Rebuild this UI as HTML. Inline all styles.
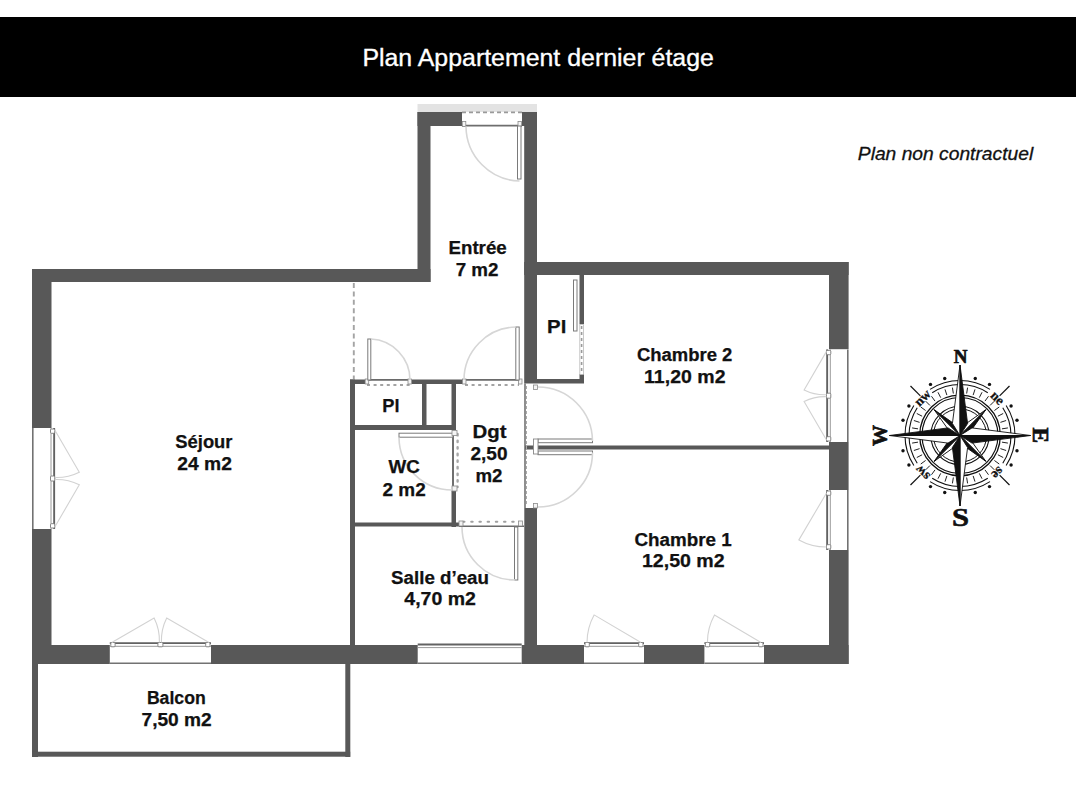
<!DOCTYPE html>
<html><head><meta charset="utf-8"><style>
html,body{margin:0;padding:0;background:#fff;width:1076px;height:800px;overflow:hidden}
svg{display:block}
</style></head><body>
<svg width="1076" height="800" viewBox="0 0 1076 800">
<rect x="0" y="17" width="1076" height="80" fill="#000" />
<text x="362.4" y="66.2" font-family="Liberation Sans" font-size="24.7" font-weight="normal" fill="#fff" text-anchor="start" textLength="351.5" lengthAdjust="spacingAndGlyphs" stroke="#fff" stroke-width="0.35">Plan Appartement dernier étage</text>
<text x="857.8" y="160.4" font-family="Liberation Sans" font-size="18" font-weight="normal" fill="#111" text-anchor="start" textLength="175.4" lengthAdjust="spacingAndGlyphs" font-style="italic" stroke="#111" stroke-width="0.3">Plan non contractuel</text>
<rect x="417.5" y="104" width="119.5" height="8" fill="#e3e3e3" />
<rect x="417.5" y="112" width="13" height="170" fill="#585858" />
<rect x="417.5" y="112" width="44.5" height="14" fill="#585858" />
<rect x="522" y="112" width="15" height="14" fill="#585858" />
<rect x="524.2" y="112" width="12.8" height="271.5" fill="#585858" />
<rect x="32" y="269" width="398.5" height="13" fill="#585858" />
<rect x="32" y="269" width="19.5" height="159" fill="#585858" />
<rect x="32" y="529" width="19.5" height="135" fill="#585858" />
<rect x="32" y="645" width="77.8" height="19" fill="#585858" />
<rect x="211" y="645" width="206.7" height="19" fill="#585858" />
<rect x="521.7" y="645" width="62.299999999999955" height="19" fill="#585858" />
<rect x="644" y="645" width="60.39999999999998" height="19" fill="#585858" />
<rect x="764" y="645" width="84.60000000000002" height="19" fill="#585858" />
<rect x="524.2" y="262" width="324.4" height="13" fill="#585858" />
<rect x="829" y="262" width="19.6" height="87.19999999999999" fill="#585858" />
<rect x="829" y="442" width="19.6" height="48" fill="#585858" />
<rect x="829" y="550" width="19.6" height="114" fill="#585858" />
<rect x="525" y="445.5" width="304" height="4" fill="#585858" />
<rect x="524.3" y="508" width="12.7" height="156" fill="#585858" />
<rect x="579.5" y="275" width="4.5" height="49" fill="#585858" />
<rect x="537" y="379" width="47" height="4.5" fill="#585858" />
<rect x="579.5" y="374" width="4.5" height="9" fill="#585858" />
<rect x="350" y="379.5" width="15" height="4.5" fill="#585858" />
<rect x="411.6" y="379.5" width="51.1" height="4.5" fill="#585858" />
<rect x="350" y="379.5" width="5" height="284.5" fill="#585858" />
<rect x="422" y="384" width="4.5" height="46" fill="#585858" />
<rect x="451.5" y="384" width="4.5" height="46" fill="#585858" />
<rect x="451.5" y="490" width="4.5" height="37" fill="#585858" />
<rect x="350" y="425" width="106" height="5" fill="#585858" />
<rect x="350" y="522.5" width="109" height="4" fill="#585858" />
<rect x="32" y="664" width="6" height="93" fill="#585858" />
<rect x="32" y="751.7" width="318.2" height="5" fill="#585858" />
<rect x="345.3" y="664" width="5" height="93" fill="#585858" />
<g transform="translate(109.8,645)">
<line x1="0" y1="-1.85" x2="101.2" y2="-1.85" stroke="#626262" stroke-width="1.9"/>
<line x1="0" y1="1.3" x2="101.2" y2="1.3" stroke="#9a9a9a" stroke-width="1"/>
<line x1="0" y1="18.2" x2="101.2" y2="18.2" stroke="#727272" stroke-width="1.6"/>
<rect x="1" y="-2.5" width="4.3" height="4.3" rx="1" fill="#fff" stroke="#7a7a7a" stroke-width="0.9"/>
<rect x="95.9" y="-2.5" width="4.3" height="4.3" rx="1" fill="#fff" stroke="#7a7a7a" stroke-width="0.9"/>
<rect x="48.1" y="-2.5" width="5" height="4.3" rx="1" fill="#fff" stroke="#7a7a7a" stroke-width="0.9"/>
<path d="M2 -2.5 L44.3 -27.0 A50.6 50.6 0 0 1 49.6 -2.5" stroke="#d2d2d2" stroke-width="1.1" fill="none"/>
<path d="M99.2 -2.5 L56.9 -27.0 A50.6 50.6 0 0 0 51.6 -2.5" stroke="#d2d2d2" stroke-width="1.1" fill="none"/>
</g>
<g transform="translate(417.7,645)">
<line x1="0" y1="-0.55" x2="104" y2="-0.55" stroke="#626262" stroke-width="1.9"/>
<line x1="0" y1="2.6" x2="104" y2="2.6" stroke="#9a9a9a" stroke-width="1"/>
<line x1="0" y1="18.2" x2="104" y2="18.2" stroke="#727272" stroke-width="1.6"/>
</g>
<g transform="translate(584,645)">
<line x1="0" y1="-1.85" x2="60" y2="-1.85" stroke="#626262" stroke-width="1.9"/>
<line x1="0" y1="1.3" x2="60" y2="1.3" stroke="#9a9a9a" stroke-width="1"/>
<line x1="0" y1="18.2" x2="60" y2="18.2" stroke="#727272" stroke-width="1.6"/>
<rect x="1" y="-2.5" width="4.3" height="4.3" rx="1" fill="#fff" stroke="#7a7a7a" stroke-width="0.9"/>
<rect x="54.7" y="-2.5" width="4.3" height="4.3" rx="1" fill="#fff" stroke="#7a7a7a" stroke-width="0.9"/>
<path d="M57 -2.5 L10.1 -30.1 A57 57 0 0 0 3 -2.5" stroke="#d2d2d2" stroke-width="1.1" fill="none"/>
</g>
<g transform="translate(704.4,645)">
<line x1="0" y1="-1.85" x2="59.6" y2="-1.85" stroke="#626262" stroke-width="1.9"/>
<line x1="0" y1="1.3" x2="59.6" y2="1.3" stroke="#9a9a9a" stroke-width="1"/>
<line x1="0" y1="18.2" x2="59.6" y2="18.2" stroke="#727272" stroke-width="1.6"/>
<rect x="1" y="-2.5" width="4.3" height="4.3" rx="1" fill="#fff" stroke="#7a7a7a" stroke-width="0.9"/>
<rect x="54.300000000000004" y="-2.5" width="4.3" height="4.3" rx="1" fill="#fff" stroke="#7a7a7a" stroke-width="0.9"/>
<path d="M56.6 -2.5 L10.1 -29.9 A56.6 56.6 0 0 0 3.0 -2.5" stroke="#d2d2d2" stroke-width="1.1" fill="none"/>
</g>
<g transform="translate(51.5,428) rotate(90)">
<line x1="0" y1="-2.6500000000000004" x2="101" y2="-2.6500000000000004" stroke="#626262" stroke-width="1.9"/>
<line x1="0" y1="0.5" x2="101" y2="0.5" stroke="#9a9a9a" stroke-width="1"/>
<line x1="0" y1="18.7" x2="101" y2="18.7" stroke="#727272" stroke-width="1.6"/>
<rect x="1" y="-3.3" width="4.3" height="4.3" rx="1" fill="#fff" stroke="#7a7a7a" stroke-width="0.9"/>
<rect x="95.7" y="-3.3" width="4.3" height="4.3" rx="1" fill="#fff" stroke="#7a7a7a" stroke-width="0.9"/>
<rect x="48.0" y="-3.3" width="5" height="4.3" rx="1" fill="#fff" stroke="#7a7a7a" stroke-width="0.9"/>
<path d="M2 -3.3 L44.2 -27.8 A50.5 50.5 0 0 1 49.5 -3.3" stroke="#d2d2d2" stroke-width="1.1" fill="none"/>
<path d="M99 -3.3 L56.8 -27.8 A50.5 50.5 0 0 0 51.5 -3.3" stroke="#d2d2d2" stroke-width="1.1" fill="none"/>
</g>
<g transform="translate(829,442) rotate(-90)">
<line x1="0" y1="-1.85" x2="92.6" y2="-1.85" stroke="#626262" stroke-width="1.9"/>
<line x1="0" y1="1.3" x2="92.6" y2="1.3" stroke="#9a9a9a" stroke-width="1"/>
<line x1="0" y1="18.8" x2="92.6" y2="18.8" stroke="#727272" stroke-width="1.6"/>
<rect x="1" y="-2.5" width="4.3" height="4.3" rx="1" fill="#fff" stroke="#7a7a7a" stroke-width="0.9"/>
<rect x="87.3" y="-2.5" width="4.3" height="4.3" rx="1" fill="#fff" stroke="#7a7a7a" stroke-width="0.9"/>
<rect x="43.8" y="-2.5" width="5" height="4.3" rx="1" fill="#fff" stroke="#7a7a7a" stroke-width="0.9"/>
<path d="M2 -2.5 L40.5 -24.9 A46.3 46.3 0 0 1 45.3 -2.5" stroke="#d2d2d2" stroke-width="1.1" fill="none"/>
<path d="M90.6 -2.5 L52.1 -24.9 A46.3 46.3 0 0 0 47.3 -2.5" stroke="#d2d2d2" stroke-width="1.1" fill="none"/>
</g>
<g transform="translate(829,550) rotate(-90)">
<line x1="0" y1="-1.85" x2="60" y2="-1.85" stroke="#626262" stroke-width="1.9"/>
<line x1="0" y1="1.3" x2="60" y2="1.3" stroke="#9a9a9a" stroke-width="1"/>
<line x1="0" y1="18.8" x2="60" y2="18.8" stroke="#727272" stroke-width="1.6"/>
<rect x="1" y="-2.5" width="4.3" height="4.3" rx="1" fill="#fff" stroke="#7a7a7a" stroke-width="0.9"/>
<rect x="54.7" y="-2.5" width="4.3" height="4.3" rx="1" fill="#fff" stroke="#7a7a7a" stroke-width="0.9"/>
<path d="M57 -2.5 L10.1 -30.1 A57 57 0 0 0 3 -2.5" stroke="#d2d2d2" stroke-width="1.1" fill="none"/>
</g>
<line x1="462" y1="112.3" x2="522" y2="112.3" stroke="#9a9a9a" stroke-width="1.8" stroke-dasharray="4 3"/>
<line x1="462" y1="125.6" x2="522" y2="125.6" stroke="#6e6e6e" stroke-width="1.8" />
<rect x="462.3" y="121.5" width="3.5" height="5" fill="#f4f4f4" stroke="#8a8a8a" stroke-width="0.8"/>
<rect x="518" y="121.5" width="3.5" height="5" fill="#f4f4f4" stroke="#8a8a8a" stroke-width="0.8"/>
<rect x="517.5" y="126" width="3.5" height="53" fill="#fff" stroke="#7a7a7a" stroke-width="1"/>
<path d="M466 126.5 A55 55 0 0 0 519.5 181" stroke="#d6d6d6" stroke-width="1.6" fill="none"/>
<line x1="365" y1="379.9" x2="411.6" y2="379.9" stroke="#6a6a6a" stroke-width="1.9" />
<line x1="367" y1="385" x2="410" y2="385" stroke="#a3a3a3" stroke-width="2" stroke-dasharray="3 3.6"/>
<rect x="365.2" y="379" width="3.5" height="5" fill="#f4f4f4" stroke="#8a8a8a" stroke-width="0.8"/>
<rect x="408" y="379" width="3.5" height="5" fill="#f4f4f4" stroke="#8a8a8a" stroke-width="0.8"/>
<rect x="367.8" y="339" width="3" height="41" fill="#fff" stroke="#7a7a7a" stroke-width="1"/>
<path d="M371 339 A41 41 0 0 1 410 380" stroke="#d6d6d6" stroke-width="1.6" fill="none"/>
<line x1="462.7" y1="379.9" x2="522" y2="379.9" stroke="#6a6a6a" stroke-width="1.9" />
<line x1="465" y1="385" x2="519" y2="385" stroke="#a3a3a3" stroke-width="2" stroke-dasharray="3 3.6"/>
<rect x="462.5" y="379" width="3.5" height="5" fill="#f4f4f4" stroke="#8a8a8a" stroke-width="0.8"/>
<rect x="518.5" y="379" width="3.5" height="5" fill="#f4f4f4" stroke="#8a8a8a" stroke-width="0.8"/>
<rect x="515.8" y="327" width="3.4" height="53" fill="#fff" stroke="#7a7a7a" stroke-width="1"/>
<path d="M515.8 327 A53 53 0 0 0 464 380" stroke="#d6d6d6" stroke-width="1.6" fill="none"/>
<line x1="525" y1="383.5" x2="525" y2="508" stroke="#6a6a6a" stroke-width="1.5" />
<line x1="526.5" y1="386" x2="526.5" y2="506" stroke="#aaa" stroke-width="1.0" stroke-dasharray="3 2"/>
<rect x="538" y="439" width="54.5" height="3.7" fill="#fff" stroke="#7a7a7a" stroke-width="1"/>
<rect x="538" y="451" width="54.5" height="3.7" fill="#fff" stroke="#7a7a7a" stroke-width="1"/>
<rect x="533.5" y="385" width="4" height="4.5" fill="#f4f4f4" stroke="#8a8a8a" stroke-width="0.8"/>
<rect x="533.5" y="503.5" width="4" height="4.5" fill="#f4f4f4" stroke="#8a8a8a" stroke-width="0.8"/>
<rect x="533.5" y="439" width="4.5" height="15" fill="#fff" stroke="#888" stroke-width="0.9"/>
<path d="M538 387 A54.5 54.5 0 0 1 592.5 441" stroke="#d6d6d6" stroke-width="1.6" fill="none"/>
<path d="M592.5 452.5 A54.5 54.5 0 0 1 538 507" stroke="#d6d6d6" stroke-width="1.6" fill="none"/>
<line x1="453" y1="431" x2="453" y2="489" stroke="#707070" stroke-width="2" />
<line x1="457.6" y1="434" x2="457.6" y2="487" stroke="#a8a8a8" stroke-width="2.4" stroke-linecap="round" stroke-dasharray="1.4 5.2"/>
<rect x="399" y="433.2" width="54" height="4" fill="#fff" stroke="#7a7a7a" stroke-width="1"/>
<rect x="452" y="430.5" width="5" height="5" fill="#f4f4f4" stroke="#8a8a8a" stroke-width="0.8"/>
<rect x="452" y="486" width="5" height="5" fill="#f4f4f4" stroke="#8a8a8a" stroke-width="0.8"/>
<path d="M399 437.5 A53 53 0 0 0 452 490" stroke="#d6d6d6" stroke-width="1.6" fill="none"/>
<line x1="463" y1="521.8" x2="518" y2="521.8" stroke="#a0a0a0" stroke-width="2" stroke-linecap="round" stroke-dasharray="1.5 6.7"/>
<line x1="459" y1="526.2" x2="524" y2="526.2" stroke="#6a6a6a" stroke-width="1.6" />
<rect x="459" y="521" width="4" height="5" fill="#f4f4f4" stroke="#8a8a8a" stroke-width="0.8"/>
<rect x="518.5" y="521" width="4" height="5" fill="#f4f4f4" stroke="#8a8a8a" stroke-width="0.8"/>
<rect x="514.5" y="527" width="3.3" height="53" fill="#fff" stroke="#7a7a7a" stroke-width="1"/>
<path d="M462 527 A53 53 0 0 0 515 580" stroke="#d6d6d6" stroke-width="1.6" fill="none"/>
<rect x="573.5" y="280" width="3.5" height="51" fill="#fff" stroke="#7a7a7a" stroke-width="1"/>
<rect x="579.8" y="324.5" width="3.6" height="50" fill="#fff" stroke="#bbb" stroke-width="0.8"/>
<line x1="581.6" y1="326" x2="581.6" y2="373" stroke="#9a9a9a" stroke-width="1.6" stroke-dasharray="3 3"/>
<g transform="translate(960,435.5)">
<circle cx="15.27" cy="-56.99" r="1.7" fill="#111"/>
<circle cx="56.99" cy="15.27" r="1.7" fill="#111"/>
<circle cx="-15.27" cy="56.99" r="1.7" fill="#111"/>
<circle cx="-56.99" cy="-15.27" r="1.7" fill="#111"/>
<circle cx="29.50" cy="-51.10" r="1.7" fill="#111"/>
<circle cx="51.10" cy="29.50" r="1.7" fill="#111"/>
<circle cx="-29.50" cy="51.10" r="1.7" fill="#111"/>
<circle cx="-51.10" cy="-29.50" r="1.7" fill="#111"/>
<circle cx="51.10" cy="-29.50" r="1.7" fill="#111"/>
<circle cx="29.50" cy="51.10" r="1.7" fill="#111"/>
<circle cx="-51.10" cy="29.50" r="1.7" fill="#111"/>
<circle cx="-29.50" cy="-51.10" r="1.7" fill="#111"/>
<circle cx="56.99" cy="-15.27" r="1.7" fill="#111"/>
<circle cx="15.27" cy="56.99" r="1.7" fill="#111"/>
<circle cx="-56.99" cy="15.27" r="1.7" fill="#111"/>
<circle cx="-15.27" cy="-56.99" r="1.7" fill="#111"/>
<line x1="39.60" y1="-39.60" x2="49.50" y2="-49.50" stroke="#111" stroke-width="1.2"/>
<line x1="39.60" y1="39.60" x2="49.50" y2="49.50" stroke="#111" stroke-width="1.2"/>
<line x1="-39.60" y1="39.60" x2="-49.50" y2="49.50" stroke="#111" stroke-width="1.2"/>
<line x1="-39.60" y1="-39.60" x2="-49.50" y2="-49.50" stroke="#111" stroke-width="1.2"/>
<path d="M-29.96 -46.13 A55 55 0 0 1 29.96 -46.13" stroke="#111" stroke-width="1.1" fill="none"/>
<path d="M-27.78 -42.77 A51 51 0 0 1 27.78 -42.77" stroke="#111" stroke-width="1.1" fill="none"/>
<path d="M46.13 -29.96 A55 55 0 0 1 46.13 29.96" stroke="#111" stroke-width="1.1" fill="none"/>
<path d="M42.77 -27.78 A51 51 0 0 1 42.77 27.78" stroke="#111" stroke-width="1.1" fill="none"/>
<path d="M29.96 46.13 A55 55 0 0 1 -29.96 46.13" stroke="#111" stroke-width="1.1" fill="none"/>
<path d="M27.78 42.77 A51 51 0 0 1 -27.78 42.77" stroke="#111" stroke-width="1.1" fill="none"/>
<path d="M-46.13 29.96 A55 55 0 0 1 -46.13 -29.96" stroke="#111" stroke-width="1.1" fill="none"/>
<path d="M-42.77 27.78 A51 51 0 0 1 -42.77 -27.78" stroke="#111" stroke-width="1.1" fill="none"/>
<line x1="-24.98" y1="-34.38" x2="-28.51" y2="-39.24" stroke="#222" stroke-width="1"/>
<line x1="-19.29" y1="-37.87" x2="-22.02" y2="-43.21" stroke="#222" stroke-width="1"/>
<line x1="-13.13" y1="-40.42" x2="-14.99" y2="-46.13" stroke="#222" stroke-width="1"/>
<line x1="-6.65" y1="-41.98" x2="-7.59" y2="-47.90" stroke="#222" stroke-width="1"/>
<line x1="0.00" y1="-42.50" x2="0.00" y2="-48.50" stroke="#222" stroke-width="1"/>
<line x1="6.65" y1="-41.98" x2="7.59" y2="-47.90" stroke="#222" stroke-width="1"/>
<line x1="13.13" y1="-40.42" x2="14.99" y2="-46.13" stroke="#222" stroke-width="1"/>
<line x1="19.29" y1="-37.87" x2="22.02" y2="-43.21" stroke="#222" stroke-width="1"/>
<line x1="24.98" y1="-34.38" x2="28.51" y2="-39.24" stroke="#222" stroke-width="1"/>
<line x1="30.05" y1="-30.05" x2="34.29" y2="-34.29" stroke="#222" stroke-width="1"/>
<line x1="34.38" y1="-24.98" x2="39.24" y2="-28.51" stroke="#222" stroke-width="1"/>
<line x1="37.87" y1="-19.29" x2="43.21" y2="-22.02" stroke="#222" stroke-width="1"/>
<line x1="40.42" y1="-13.13" x2="46.13" y2="-14.99" stroke="#222" stroke-width="1"/>
<line x1="41.98" y1="-6.65" x2="47.90" y2="-7.59" stroke="#222" stroke-width="1"/>
<line x1="42.50" y1="-0.00" x2="48.50" y2="-0.00" stroke="#222" stroke-width="1"/>
<line x1="41.98" y1="6.65" x2="47.90" y2="7.59" stroke="#222" stroke-width="1"/>
<line x1="40.42" y1="13.13" x2="46.13" y2="14.99" stroke="#222" stroke-width="1"/>
<line x1="37.87" y1="19.29" x2="43.21" y2="22.02" stroke="#222" stroke-width="1"/>
<line x1="34.38" y1="24.98" x2="39.24" y2="28.51" stroke="#222" stroke-width="1"/>
<line x1="30.05" y1="30.05" x2="34.29" y2="34.29" stroke="#222" stroke-width="1"/>
<line x1="24.98" y1="34.38" x2="28.51" y2="39.24" stroke="#222" stroke-width="1"/>
<line x1="19.29" y1="37.87" x2="22.02" y2="43.21" stroke="#222" stroke-width="1"/>
<line x1="13.13" y1="40.42" x2="14.99" y2="46.13" stroke="#222" stroke-width="1"/>
<line x1="6.65" y1="41.98" x2="7.59" y2="47.90" stroke="#222" stroke-width="1"/>
<line x1="0.00" y1="42.50" x2="0.00" y2="48.50" stroke="#222" stroke-width="1"/>
<line x1="-6.65" y1="41.98" x2="-7.59" y2="47.90" stroke="#222" stroke-width="1"/>
<line x1="-13.13" y1="40.42" x2="-14.99" y2="46.13" stroke="#222" stroke-width="1"/>
<line x1="-19.29" y1="37.87" x2="-22.02" y2="43.21" stroke="#222" stroke-width="1"/>
<line x1="-24.98" y1="34.38" x2="-28.51" y2="39.24" stroke="#222" stroke-width="1"/>
<line x1="-30.05" y1="30.05" x2="-34.29" y2="34.29" stroke="#222" stroke-width="1"/>
<line x1="-34.38" y1="24.98" x2="-39.24" y2="28.51" stroke="#222" stroke-width="1"/>
<line x1="-37.87" y1="19.29" x2="-43.21" y2="22.02" stroke="#222" stroke-width="1"/>
<line x1="-40.42" y1="13.13" x2="-46.13" y2="14.99" stroke="#222" stroke-width="1"/>
<line x1="-41.98" y1="6.65" x2="-47.90" y2="7.59" stroke="#222" stroke-width="1"/>
<line x1="-42.50" y1="0.00" x2="-48.50" y2="0.00" stroke="#222" stroke-width="1"/>
<line x1="-41.98" y1="-6.65" x2="-47.90" y2="-7.59" stroke="#222" stroke-width="1"/>
<line x1="-40.42" y1="-13.13" x2="-46.13" y2="-14.99" stroke="#222" stroke-width="1"/>
<line x1="-37.87" y1="-19.29" x2="-43.21" y2="-22.02" stroke="#222" stroke-width="1"/>
<line x1="-34.38" y1="-24.98" x2="-39.24" y2="-28.51" stroke="#222" stroke-width="1"/>
<line x1="-30.05" y1="-30.05" x2="-34.29" y2="-34.29" stroke="#222" stroke-width="1"/>
<circle r="40.3" fill="none" stroke="#111" stroke-width="1.3"/>
<circle r="38" fill="none" stroke="#111" stroke-width="1.2"/>
<circle r="29.2" fill="none" stroke="#111" stroke-width="1.1"/>
<circle r="26.6" fill="none" stroke="#111" stroke-width="1"/>
<text x="0" y="0" transform="translate(-37.69,-37.69) rotate(-45)" font-family="Liberation Serif" font-weight="bold" font-size="13.5" text-anchor="middle" dominant-baseline="central" fill="#111" stroke="#111" stroke-width="0.3">nw</text>
<text x="0" y="0" transform="translate(37.69,-37.69) rotate(45)" font-family="Liberation Serif" font-weight="bold" font-size="13.5" text-anchor="middle" dominant-baseline="central" fill="#111" stroke="#111" stroke-width="0.3">ne</text>
<text x="0" y="0" transform="translate(37.69,37.69) rotate(135)" font-family="Liberation Serif" font-weight="bold" font-size="13.5" text-anchor="middle" dominant-baseline="central" fill="#111" stroke="#111" stroke-width="0.3">se</text>
<text x="0" y="0" transform="translate(-37.69,37.69) rotate(-135)" font-family="Liberation Serif" font-weight="bold" font-size="13.5" text-anchor="middle" dominant-baseline="central" fill="#111" stroke="#111" stroke-width="0.3">sw</text>
<g transform="rotate(45)"><path d="M0 0 L-4.8 -8.5 L0 -36.5 Z" fill="#fff" stroke="#111" stroke-width="0.9" stroke-linejoin="round"/><path d="M0 0 L0 -36.5 L4.8 -8.5 Z" fill="#111" stroke="#111" stroke-width="0.9" stroke-linejoin="round"/></g>
<g transform="rotate(135)"><path d="M0 0 L-4.8 -8.5 L0 -36.5 Z" fill="#fff" stroke="#111" stroke-width="0.9" stroke-linejoin="round"/><path d="M0 0 L0 -36.5 L4.8 -8.5 Z" fill="#111" stroke="#111" stroke-width="0.9" stroke-linejoin="round"/></g>
<g transform="rotate(225)"><path d="M0 0 L-4.8 -8.5 L0 -36.5 Z" fill="#fff" stroke="#111" stroke-width="0.9" stroke-linejoin="round"/><path d="M0 0 L0 -36.5 L4.8 -8.5 Z" fill="#111" stroke="#111" stroke-width="0.9" stroke-linejoin="round"/></g>
<g transform="rotate(315)"><path d="M0 0 L-4.8 -8.5 L0 -36.5 Z" fill="#fff" stroke="#111" stroke-width="0.9" stroke-linejoin="round"/><path d="M0 0 L0 -36.5 L4.8 -8.5 Z" fill="#111" stroke="#111" stroke-width="0.9" stroke-linejoin="round"/></g>
<g transform="rotate(0)"><path d="M0 0 L-7.6 -12 L0 -70.5 Z" fill="#fff" stroke="#111" stroke-width="0.9" stroke-linejoin="round"/><path d="M0 0 L0 -70.5 L7.6 -12 Z" fill="#111" stroke="#111" stroke-width="0.9" stroke-linejoin="round"/></g>
<g transform="rotate(90)"><path d="M0 0 L-7.6 -12 L0 -70.5 Z" fill="#fff" stroke="#111" stroke-width="0.9" stroke-linejoin="round"/><path d="M0 0 L0 -70.5 L7.6 -12 Z" fill="#111" stroke="#111" stroke-width="0.9" stroke-linejoin="round"/></g>
<g transform="rotate(180)"><path d="M0 0 L-7.6 -12 L0 -70.5 Z" fill="#fff" stroke="#111" stroke-width="0.9" stroke-linejoin="round"/><path d="M0 0 L0 -70.5 L7.6 -12 Z" fill="#111" stroke="#111" stroke-width="0.9" stroke-linejoin="round"/></g>
<g transform="rotate(270)"><path d="M0 0 L-7.6 -12 L0 -70.5 Z" fill="#fff" stroke="#111" stroke-width="0.9" stroke-linejoin="round"/><path d="M0 0 L0 -70.5 L7.6 -12 Z" fill="#111" stroke="#111" stroke-width="0.9" stroke-linejoin="round"/></g>
</g>
<text x="960.5" y="363" font-family="Liberation Serif" font-weight="bold" font-size="19" text-anchor="middle" fill="#111" stroke="#111" stroke-width="0.7">N</text>
<text x="0" y="0" transform="translate(960.6,526.2) scale(1.25,1)" font-family="Liberation Serif" font-weight="bold" font-size="24.5" text-anchor="middle" fill="#111" stroke="#111" stroke-width="0.6">S</text>
<text x="0" y="0" transform="translate(886.9,435.6) rotate(-90)" font-family="Liberation Serif" font-weight="bold" font-size="21" text-anchor="middle" fill="#111" stroke="#111" stroke-width="0.7">W</text>
<text x="0" y="0" transform="translate(1033,435.4) rotate(90)" font-family="Liberation Serif" font-weight="bold" font-size="23.5" text-anchor="middle" fill="#111" stroke="#111" stroke-width="0.7">E</text>
<line x1="353.8" y1="283" x2="353.8" y2="379" stroke="#a4a4a4" stroke-width="1.9" stroke-dasharray="5 3.4"/>
<text x="477.60" y="254.0" font-family="Liberation Sans" font-size="17.5" font-weight="bold" fill="#111" stroke="#111" stroke-width="0.25" text-anchor="middle" textLength="58.20" lengthAdjust="spacingAndGlyphs">Entrée</text>
<text x="477.10" y="276.3" font-family="Liberation Sans" font-size="17.5" font-weight="bold" fill="#111" stroke="#111" stroke-width="0.25" text-anchor="middle" textLength="42.80" lengthAdjust="spacingAndGlyphs">7 m2</text>
<text x="556.70" y="332.7" font-family="Liberation Sans" font-size="17.5" font-weight="bold" fill="#111" stroke="#111" stroke-width="0.25" text-anchor="middle" textLength="19.20" lengthAdjust="spacingAndGlyphs">Pl</text>
<text x="390.90" y="412.0" font-family="Liberation Sans" font-size="17.5" font-weight="bold" fill="#111" stroke="#111" stroke-width="0.25" text-anchor="middle" textLength="17.20" lengthAdjust="spacingAndGlyphs">Pl</text>
<text x="684.60" y="360.5" font-family="Liberation Sans" font-size="17.5" font-weight="bold" fill="#111" stroke="#111" stroke-width="0.25" text-anchor="middle" textLength="95.40" lengthAdjust="spacingAndGlyphs">Chambre 2</text>
<text x="684.80" y="382.9" font-family="Liberation Sans" font-size="17.5" font-weight="bold" fill="#111" stroke="#111" stroke-width="0.25" text-anchor="middle" textLength="81.40" lengthAdjust="spacingAndGlyphs">11,20 m2</text>
<text x="203.90" y="447.9" font-family="Liberation Sans" font-size="17.5" font-weight="bold" fill="#111" stroke="#111" stroke-width="0.25" text-anchor="middle" textLength="57.20" lengthAdjust="spacingAndGlyphs">Séjour</text>
<text x="204.60" y="470.2" font-family="Liberation Sans" font-size="17.5" font-weight="bold" fill="#111" stroke="#111" stroke-width="0.25" text-anchor="middle" textLength="54.60" lengthAdjust="spacingAndGlyphs">24 m2</text>
<text x="404.10" y="473.2" font-family="Liberation Sans" font-size="17.5" font-weight="bold" fill="#111" stroke="#111" stroke-width="0.25" text-anchor="middle" textLength="31.20" lengthAdjust="spacingAndGlyphs">WC</text>
<text x="404.10" y="495.5" font-family="Liberation Sans" font-size="17.5" font-weight="bold" fill="#111" stroke="#111" stroke-width="0.25" text-anchor="middle" textLength="43.20" lengthAdjust="spacingAndGlyphs">2 m2</text>
<text x="489.50" y="437.5" font-family="Liberation Sans" font-size="17.5" font-weight="bold" fill="#111" stroke="#111" stroke-width="0.25" text-anchor="middle" textLength="34.00" lengthAdjust="spacingAndGlyphs">Dgt</text>
<text x="489.00" y="459.5" font-family="Liberation Sans" font-size="17.5" font-weight="bold" fill="#111" stroke="#111" stroke-width="0.25" text-anchor="middle" textLength="37.00" lengthAdjust="spacingAndGlyphs">2,50</text>
<text x="489.00" y="482.0" font-family="Liberation Sans" font-size="17.5" font-weight="bold" fill="#111" stroke="#111" stroke-width="0.25" text-anchor="middle" textLength="27.00" lengthAdjust="spacingAndGlyphs">m2</text>
<text x="440.00" y="584.0" font-family="Liberation Sans" font-size="17.5" font-weight="bold" fill="#111" stroke="#111" stroke-width="0.25" text-anchor="middle" textLength="97.80" lengthAdjust="spacingAndGlyphs">Salle d’eau</text>
<text x="440.10" y="605.2" font-family="Liberation Sans" font-size="17.5" font-weight="bold" fill="#111" stroke="#111" stroke-width="0.25" text-anchor="middle" textLength="71.60" lengthAdjust="spacingAndGlyphs">4,70 m2</text>
<text x="683.10" y="545.5" font-family="Liberation Sans" font-size="17.5" font-weight="bold" fill="#111" stroke="#111" stroke-width="0.25" text-anchor="middle" textLength="97.20" lengthAdjust="spacingAndGlyphs">Chambre 1</text>
<text x="683.30" y="567.3" font-family="Liberation Sans" font-size="17.5" font-weight="bold" fill="#111" stroke="#111" stroke-width="0.25" text-anchor="middle" textLength="82.80" lengthAdjust="spacingAndGlyphs">12,50 m2</text>
<text x="176.30" y="703.7" font-family="Liberation Sans" font-size="17.5" font-weight="bold" fill="#111" stroke="#111" stroke-width="0.25" text-anchor="middle" textLength="58.80" lengthAdjust="spacingAndGlyphs">Balcon</text>
<text x="176.60" y="726.0" font-family="Liberation Sans" font-size="17.5" font-weight="bold" fill="#111" stroke="#111" stroke-width="0.25" text-anchor="middle" textLength="70.20" lengthAdjust="spacingAndGlyphs">7,50 m2</text>
</svg>
</body></html>
